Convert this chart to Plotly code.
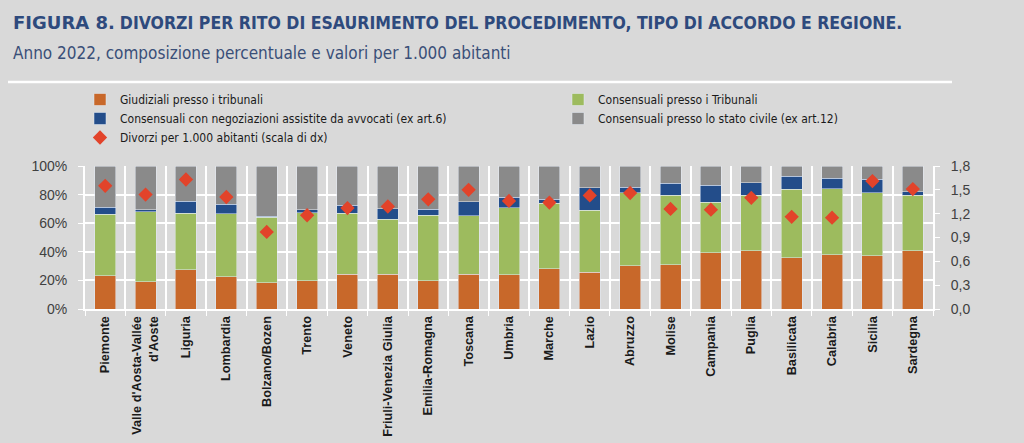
import plotly.graph_objects as go

regioni = ["Piemonte", "Valle d'Aosta-Vallée<br>d'Aoste", "Liguria", "Lombardia", "Bolzano/Bozen",
           "Trento", "Veneto", "Friuli-Venezia Giulia", "Emilia-Romagna", "Toscana", "Umbria",
           "Marche", "Lazio", "Abruzzo", "Molise", "Campania", "Puglia", "Basilicata",
           "Calabria", "Sicilia", "Sardegna"]

giudiziali = [23.3, 19.1, 27.3, 22.6, 18.4, 19.8, 24.2, 24.3, 19.6, 24.3, 23.8,
              28.2, 25.7, 30.3, 31.0, 39.2, 40.8, 35.7, 38.0, 37.3, 40.8]
consens_tribunali = [42.9, 48.9, 39.6, 44.1, 45.9, 47.6, 42.7, 38.6, 45.9, 40.9, 47.0,
                     45.7, 43.5, 51.0, 48.7, 35.4, 38.7, 48.0, 46.1, 44.0, 38.7]
negoziazioni = [4.9, 1.4, 8.6, 6.5, 0.7, 2.0, 5.8, 7.2, 4.4, 9.8, 7.5,
                3.0, 15.6, 3.8, 8.2, 11.9, 8.8, 9.1, 7.5, 9.6, 2.5]
stato_civile = [28.9, 30.6, 24.5, 26.8, 35.0, 30.6, 27.3, 29.9, 30.1, 25.0, 21.7,
                23.1, 15.2, 14.9, 12.1, 13.5, 11.7, 7.2, 8.4, 9.1, 18.0]
divorzi_1000 = [1.55, 1.44, 1.63, 1.41, 0.97, 1.18, 1.27, 1.29, 1.38, 1.50, 1.36,
                1.34, 1.43, 1.46, 1.26, 1.25, 1.40, 1.16, 1.15, 1.61, 1.51]

left_ticks = [0, 20, 40, 60, 80, 100]
left_labels = ["0%", "20%", "40%", "60%", "80%", "100%"]
right_ticks = [0, 0.3, 0.6, 0.9, 1.2, 1.5, 1.8]

NARROW = "DejaVu Sans Condensed, Liberation Sans, sans-serif"
SANS = "Liberation Sans, Arial, sans-serif"
BG = "#d9d9d9"
NAVY = "#2e4a7d"

fig = go.Figure()
fig.add_bar(x=regioni, y=giudiziali, name="Giudiziali presso i tribunali", marker_color="#c8682a",
            legend="legend")
fig.add_bar(x=regioni, y=consens_tribunali, name="Consensuali presso i Tribunali", marker_color="#9dbb5e",
            legend="legend2")
fig.add_bar(x=regioni, y=negoziazioni, name="Consensuali con negoziazioni assistite da avvocati (ex art.6)",
            marker_color="#234d8a", legend="legend")
fig.add_bar(x=regioni, y=stato_civile, name="Consensuali presso lo stato civile (ex art.12)",
            marker_color="#8a8a8a", legend="legend2")
fig.add_scatter(x=regioni, y=divorzi_1000, yaxis="y2", mode="markers",
                name="Divorzi per 1.000 abitanti (scala di dx)",
                marker=dict(symbol="diamond", size=11, color="#e2432a"), legend="legend")

L, R, T, B = 85, 91, 166, 134
W, H = 1024, 443
pw, ph = W - L - R, H - T - B

def px_x(x):
    return (x - L) / pw

def px_y(y):
    return (H - B - y) / ph

legend_common = dict(orientation="v", xref="container", yref="container", xanchor="left", yanchor="top",
                     traceorder="normal", font=dict(family=NARROW, size=12, color="#1a1a1a"),
                     bgcolor="rgba(0,0,0,0)", itemwidth=30, tracegroupgap=0)

fig.update_layout(
    width=W, height=H,
    margin=dict(l=L, r=R, t=T, b=B, pad=0, autoexpand=False),
    paper_bgcolor=BG, plot_bgcolor=BG,
    separators=",.",
    barmode="stack", bargap=0.48,
    font=dict(family=SANS, color="#404040", size=14),
    xaxis=dict(type="category", range=[-0.5, len(regioni) - 0.5], tickangle=-90, tickson="boundaries",
               ticks="outside", ticklen=5, tickcolor="white", showline=True, linecolor="white", linewidth=2,
               showgrid=True, gridcolor="white", gridwidth=1.5, automargin=False,
               tickfont=dict(family=SANS, size=12.7, color="#1a1a1a", weight="bold")),
    yaxis=dict(range=[0, 100], tickvals=left_ticks, ticktext=left_labels, ticks="outside", ticklen=5,
               tickcolor="white", showline=True, linecolor="white", linewidth=2, automargin=False,
               showgrid=True, gridcolor="white", gridwidth=1.5, zeroline=False,
               ticklabelstandoff=8, tickfont=dict(size=14, color="#404040")),
    yaxis2=dict(range=[0, 1.8], tickvals=right_ticks, tickformat=".1f", overlaying="y", side="right",
                ticks="outside", ticklen=5, tickcolor="white", showline=True, linecolor="white",
                linewidth=2, showgrid=False, zeroline=False, ticklabelstandoff=8, automargin=False,
                tickfont=dict(size=14, color="#404040")),
    legend=dict(x=80 / W, y=1 - 85 / H, **legend_common),
    legend2=dict(x=558 / W, y=1 - 85 / H, **legend_common),
    showlegend=True,
    annotations=[
        dict(xref="paper", yref="paper", x=px_x(11), y=px_y(22), xanchor="left", yanchor="middle",
             showarrow=False,
             text=("<span style='font-family:DejaVu Sans; font-weight:bold; font-size:18px'>FIGURA 8.</span>"
                   " <b>DIVORZI PER RITO DI ESAURIMENTO DEL PROCEDIMENTO, TIPO DI ACCORDO E REGIONE.</b>"),
             font=dict(family=NARROW, size=17.5, color=NAVY)),
        dict(xref="paper", yref="paper", x=px_x(11), y=px_y(53), xanchor="left", yanchor="middle",
             showarrow=False,
             text="Anno 2022, composizione percentuale e valori per 1.000 abitanti",
             font=dict(family=NARROW, size=17, color="#3a4f78")),
    ],
    shapes=[dict(type="line", xref="paper", yref="paper", x0=px_x(8), x1=px_x(952),
                 y0=px_y(82), y1=px_y(82), line=dict(color="white", width=2.5))],
)

fig.write_html("out.html", config={"displayModeBar": False})
